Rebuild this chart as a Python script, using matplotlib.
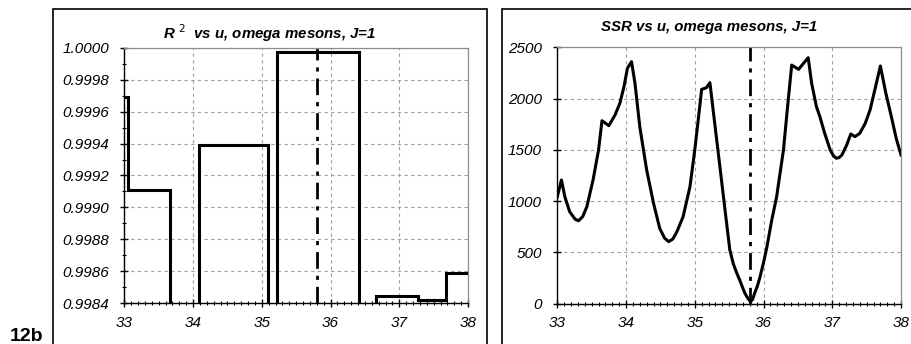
import matplotlib
matplotlib.use("Agg")
import matplotlib.pyplot as plt
from matplotlib.patches import Rectangle
from matplotlib.ticker import MultipleLocator, FormatStrFormatter

plt.rcParams['font.family'] = ['Liberation Sans', 'DejaVu Sans']

# R^2 as a step function of u (value holds until the next break)
r2_u = [33.00, 33.05, 33.66, 34.09, 35.09, 35.22, 36.41, 36.66, 37.27, 37.68, 38.00]
r2_val = [0.99969, 0.99911, 0.99780, 0.99939, 0.99780, 0.99997, 0.99780,
          0.998446, 0.998423, 0.998588, 0.998588]

# sum of squared residuals versus u
ssr_u = [33.00, 33.06, 33.11, 33.18, 33.26, 33.31, 33.37, 33.43, 33.52, 33.60, 33.65,
         33.75, 33.84, 33.91, 33.97, 34.02, 34.08, 34.13, 34.20, 34.30, 34.40,
         34.49, 34.56, 34.62, 34.68, 34.74, 34.83, 34.93, 35.00, 35.05, 35.10, 35.17, 35.22,
         35.29, 35.37, 35.44, 35.51, 35.56, 35.61, 35.66, 35.70, 35.73, 35.77, 35.81,
         35.84, 35.87, 35.91, 35.95, 36.00,
         36.05, 36.12, 36.19, 36.29, 36.35, 36.41, 36.51, 36.65, 36.70, 36.77,
         36.82, 36.89, 36.97, 37.02, 37.06, 37.10, 37.14, 37.21, 37.27, 37.33, 37.40, 37.48,
         37.55, 37.63, 37.70, 37.78, 37.86, 37.93, 38.00]
ssr_val = [1043, 1206, 1043, 897, 823, 809, 850, 946, 1206, 1499, 1784,
           1736, 1840, 1954, 2116, 2295, 2360, 2149, 1726, 1304, 979,
           735, 640, 605, 630, 702, 848, 1141, 1499, 1791, 2090, 2106, 2155,
           1759, 1310, 914, 524, 390, 300, 220, 150, 101, 55, 20,
           40, 101, 170, 263, 400,
           556, 816, 1040, 1499, 1921, 2327, 2285, 2399, 2149, 1921,
           1823, 1661, 1499, 1440, 1418, 1425, 1450, 1547, 1655, 1629, 1661, 1759,
           1889, 2116, 2318, 2051, 1823, 1613, 1450]

u_best = 35.81

r2_title = r"R $^{2}$  vs u, omega mesons, J=1"
ssr_title = "SSR vs u, omega mesons, J=1"
panel_tag = "12b"

W, H = 911, 344
fig = plt.figure(figsize=(W / 100, H / 100), dpi=100)


def fx(px):
    return px / W


def fy(py):
    return 1 - py / H


# chart frames
for x0, x1 in [(53, 487), (502, 916)]:
    fig.patches.append(Rectangle((fx(x0), fy(360)), fx(x1) - fx(x0), fy(9.5) - fy(360),
                                 transform=fig.transFigure, fill=False,
                                 edgecolor='black', linewidth=1.2, zorder=0))

fig.text(fx(10), fy(341), panel_tag, fontsize=14, fontweight='bold',
         ha='left', va='baseline')

axL = fig.add_axes([fx(124.3), fy(303.3), fx(468) - fx(124.3), fy(47.7) - fy(303.3)])
axR = fig.add_axes([fx(557.3), fy(303.7), fx(901) - fx(557.3), fy(47.3) - fy(303.7)])


def style(ax):
    for s in ['top', 'right']:
        ax.spines[s].set_color('#8c8c8c')
        ax.spines[s].set_linewidth(0.9)
    for s in ['left', 'bottom']:
        ax.spines[s].set_color('black')
        ax.spines[s].set_linewidth(1.0)
    ax.set_xlim(33, 38)
    ax.xaxis.set_major_locator(MultipleLocator(1))
    ax.xaxis.set_minor_locator(MultipleLocator(0.1))
    ax.grid(True, which='major', color='#a0a0a0', linestyle=(0, (3, 3)), linewidth=0.8)
    ax.set_axisbelow(True)
    ax.tick_params(which='major', direction='inout', length=6, width=1.0,
                   labelsize=11)
    ax.tick_params(which='minor', direction='inout', length=3.5, width=0.8)
    ax.tick_params(axis='x', which='major', pad=6)
    ax.tick_params(axis='y', which='major', pad=8)
    for lab in ax.get_xticklabels() + ax.get_yticklabels():
        lab.set_fontstyle('italic')


# left: R^2
axL.step(r2_u, r2_val, where='post', color='black', linewidth=2.2, solid_joinstyle='miter')
axL.set_ylim(0.9984, 1.0000)
axL.yaxis.set_major_locator(MultipleLocator(0.0002))
axL.yaxis.set_minor_locator(MultipleLocator(0.0001))
axL.yaxis.set_major_formatter(FormatStrFormatter('%.4f'))
axL.axvline(u_best, color='black', linewidth=2.0, linestyle=(0, (6, 2.5, 1.5, 2.5)))
style(axL)

# right: SSR
axR.plot(ssr_u, ssr_val, color='black', linewidth=2.2)
axR.set_ylim(0, 2500)
axR.yaxis.set_major_locator(MultipleLocator(500))
axR.axvline(u_best, color='black', linewidth=2.0, linestyle=(0, (6, 2.5, 1.5, 2.5)))
style(axR)
axR.tick_params(axis='y', which='minor', length=0)

fig.text(fx(270), fy(39), r2_title, fontsize=10.8, fontweight='bold', fontstyle='italic',
         ha='center', va='baseline')
fig.text(fx(709), fy(31), ssr_title, fontsize=10.8, fontweight='bold', fontstyle='italic',
         ha='center', va='baseline')

fig.savefig('out.png', dpi=100)
